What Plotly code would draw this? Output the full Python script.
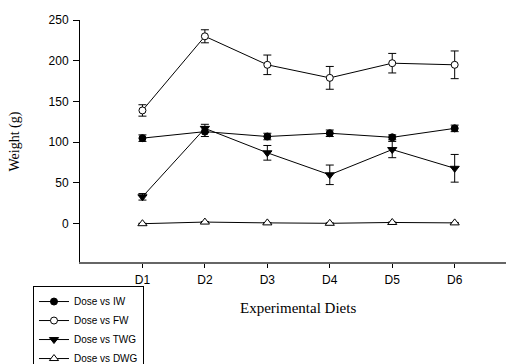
import plotly.graph_objects as go

diets = ["D1", "D2", "D3", "D4", "D5", "D6"]
xpos = [1, 2, 3, 4, 5, 6]

iw = [105, 113, 107, 111, 106, 117]
iw_err = [4, 6, 4, 4, 3, 4]
fw = [139, 230, 195, 179, 197, 195]
fw_err = [7, 8, 12, 14, 12, 17]
twg = [33, 117, 87, 60, 91, 68]
twg_err = [4, 5, 9, 12, 10, 17]
dwg = [0, 2, 1, 0.5, 1.5, 1]
dwg_err = [0.5, 0.5, 0.5, 0.5, 0.5, 0.5]

series = [
    ("Dose vs IW", iw, iw_err, "circle", "black", 7),
    ("Dose vs FW", fw, fw_err, "circle", "white", 7),
    ("Dose vs TWG", twg, twg_err, "triangle-down", "black", 8),
    ("Dose vs DWG", dwg, dwg_err, "triangle-up", "white", 8),
]

fig = go.Figure()
for name, vals, errs, sym, fill, size in series:
    fig.add_trace(go.Scatter(
        x=xpos, y=vals, name=name, mode="lines+markers",
        line=dict(color="black", width=1),
        marker=dict(symbol=sym, size=size, color=fill,
                    line=dict(color="black", width=1)),
        error_y=dict(type="data", array=errs, visible=True, color="black",
                     thickness=1, width=4),
    ))

serif = "Liberation Serif, Times New Roman, serif"

fig.update_layout(
    width=506, height=356,
    margin=dict(l=72, r=0, t=12, b=102, autoexpand=False),
    paper_bgcolor="white", plot_bgcolor="white",
    font=dict(family="Liberation Sans, Arial", size=12, color="black"),
    showlegend=True,
    legend=dict(x=0.0494, y=0.219, xref="container", yref="container",
                xanchor="left", yanchor="top",
                bordercolor="black", borderwidth=1, bgcolor="white",
                font=dict(size=10), tracegroupgap=0, itemwidth=30),
    xaxis=dict(range=[0, 6.95], tickvals=xpos, ticktext=diets,
               showline=True, linecolor="#666666", linewidth=1.5,
               ticks="outside", ticklen=4, tickcolor="black",
               ticklabelstandoff=2,
               showgrid=False, zeroline=False, automargin=False),
    yaxis=dict(range=[-47, 250], tickvals=[0, 50, 100, 150, 200, 250],
               showline=True, linecolor="black", linewidth=1,
               ticks="outside", ticklen=6, tickcolor="black",
               ticklabelstandoff=2,
               showgrid=False, zeroline=False, automargin=False),
    annotations=[
        dict(text="Experimental Diets", xref="paper", yref="paper",
             x=0.502, y=-0.19, xanchor="center", yanchor="middle",
             showarrow=False, font=dict(family=serif, size=15)),
        dict(text="Weight (g)", xref="paper", yref="paper",
             x=-0.1498, y=0.498, xanchor="center", yanchor="middle",
             textangle=-90, showarrow=False, font=dict(family=serif, size=14)),
    ],
)

fig.write_html("out.html")
